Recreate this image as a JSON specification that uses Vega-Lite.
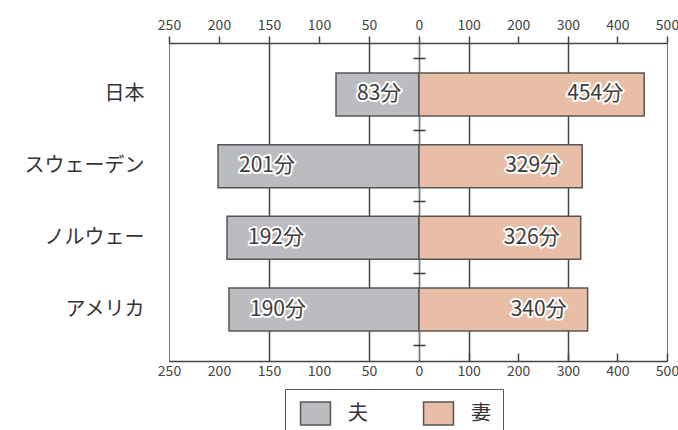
{
  "$schema": "https://vega.github.io/schema/vega-lite/v6.json",
  "padding": {"left": 23, "top": 17, "right": 0, "bottom": 0},
  "bounds": "flush",
  "spacing": 0,
  "background": "white",
  "config": {
    "font": "Noto Sans CJK JP",
    "view": {"stroke": "#777", "strokeWidth": 1},
    "axis": {"domainColor": "#444", "domainWidth": 1.5, "tickColor": "#444", "tickWidth": 1.5, "labelColor": "#444", "labelFont": "Noto Sans CJK JP"}
  },
  "datasets": {
    "d": [
      {"country": "日本", "who": "夫", "minutes": 83, "label": "83分"},
      {"country": "日本", "who": "妻", "minutes": 454, "label": "454分"},
      {"country": "スウェーデン", "who": "夫", "minutes": 201, "label": "201分"},
      {"country": "スウェーデン", "who": "妻", "minutes": 329, "label": "329分"},
      {"country": "ノルウェー", "who": "夫", "minutes": 192, "label": "192分"},
      {"country": "ノルウェー", "who": "妻", "minutes": 326, "label": "326分"},
      {"country": "アメリカ", "who": "夫", "minutes": 190, "label": "190分"},
      {"country": "アメリカ", "who": "妻", "minutes": 340, "label": "340分"}
    ]
  },
  "data": {"name": "d"},
  "hconcat": [
    {
      "width": 250,
      "height": 318,
      "transform": [{"filter": "datum.who === '夫'"}],
      "layer": [
        {
          "mark": {"type": "bar", "stroke": "#555", "strokeWidth": 1.5, "opacity": 1},
          "encoding": {
            "y": {"field": "country", "type": "nominal", "sort": ["日本", "スウェーデン", "ノルウェー", "アメリカ"], "scale": {"paddingInner": 0.4, "paddingOuter": 0.418},
              "axis": {"title": null, "domain": false, "ticks": false, "labelFontSize": 20, "labelColor": "#333", "labelPadding": 25, "labelLimit": 300}},
            "x": {"field": "minutes", "type": "quantitative", "scale": {"domain": [0, 250], "reverse": true, "nice": false, "zero": false},
              "axis": {"orient": "top", "values": [0, 50, 100, 150, 200, 250], "title": null, "labelFontSize": 14, "labelPadding": 4, "tickSize": 7, "labelFlush": false, "labelOverlap": false,
                "grid": true, "gridColor": "#444", "gridWidth": 1.5,
                "gridOpacity": {"condition": {"test": "datum.value === 50 || datum.value === 150 || datum.value === 0", "value": 1}, "value": 0}}},
            "color": {"field": "who", "type": "nominal", "scale": {"domain": ["夫", "妻"], "range": ["#bbbcc0", "#e8bea6"]},
              "legend": {"orient": "none", "legendX": 116, "legendY": 346, "direction": "horizontal", "title": null, "strokeColor": "#555", "padding": 12, "symbolOffset": 6,
                "symbolType": "M-1.3,-1L1.3,-1L1.3,1L-1.3,1Z", "symbolSize": 529, "symbolStrokeColor": "#555", "symbolStrokeWidth": 1.5, "symbolOpacity": 1,
                "labelFontSize": 20, "labelColor": "#333", "labelOffset": 20, "columnPadding": 52}}
          }
        },
        {
          "mark": {"type": "text", "align": "left", "baseline": "middle", "dx": 21, "fontSize": 21, "fill": "white", "stroke": "white", "strokeWidth": 4, "strokeJoin": "round"},
          "encoding": {
            "y": {"field": "country", "type": "nominal", "sort": ["日本", "スウェーデン", "ノルウェー", "アメリカ"], "axis": null},
            "x": {"field": "minutes", "type": "quantitative", "axis": null},
            "text": {"field": "label"}
          }
        },
        {
          "mark": {"type": "text", "align": "left", "baseline": "middle", "dx": 21, "fontSize": 21, "fill": "#3c3c3c"},
          "encoding": {
            "y": {"field": "country", "type": "nominal", "sort": ["日本", "スウェーデン", "ノルウェー", "アメリカ"], "axis": null},
            "x": {"field": "minutes", "type": "quantitative",
              "axis": {"orient": "bottom", "values": [0, 50, 100, 150, 200, 250], "title": null, "labelFontSize": 14, "labelPadding": 3, "ticks": false, "labelFlush": false, "labelOverlap": false, "grid": false}},
            "text": {"field": "label"}
          }
        }
      ],
      "resolve": {"axis": {"x": "independent", "y": "independent"}}
    },
    {
      "width": 248,
      "height": 318,
      "transform": [{"filter": "datum.who === '妻'"}],
      "layer": [
        {
          "mark": {"type": "bar", "stroke": "#555", "strokeWidth": 1.5, "opacity": 1},
          "encoding": {
            "y": {"field": "country", "type": "nominal", "sort": ["日本", "スウェーデン", "ノルウェー", "アメリカ"], "scale": {"paddingInner": 0.4, "paddingOuter": 0.418},
              "axis": {"orient": "left", "title": null, "domain": false, "labels": false, "offset": -6, "tickSize": 12, "tickColor": "#333", "tickWidth": 1.5, "bandPosition": -0.3337}},
            "x": {"field": "minutes", "type": "quantitative", "scale": {"domain": [0, 500], "nice": false, "zero": true},
              "axis": {"orient": "top", "values": [100, 200, 300, 400, 500], "title": null, "labelFontSize": 14, "labelPadding": 4, "tickSize": 7, "labelFlush": false, "labelOverlap": false,
                "grid": true, "gridColor": "#444", "gridWidth": 1.5,
                "gridOpacity": {"condition": {"test": "datum.value === 100 || datum.value === 300", "value": 1}, "value": 0}}},
            "color": {"field": "who", "type": "nominal", "scale": {"domain": ["夫", "妻"], "range": ["#bbbcc0", "#e8bea6"]},
              "legend": {"orient": "none", "legendX": 116, "legendY": 346, "direction": "horizontal", "title": null, "strokeColor": "#555", "padding": 12, "symbolOffset": 6,
                "symbolType": "M-1.3,-1L1.3,-1L1.3,1L-1.3,1Z", "symbolSize": 529, "symbolStrokeColor": "#555", "symbolStrokeWidth": 1.5, "symbolOpacity": 1,
                "labelFontSize": 20, "labelColor": "#333", "labelOffset": 20, "columnPadding": 52}}
          }
        },
        {
          "mark": {"type": "text", "align": "right", "baseline": "middle", "dx": -21, "fontSize": 21, "fill": "white", "stroke": "white", "strokeWidth": 4, "strokeJoin": "round"},
          "encoding": {
            "y": {"field": "country", "type": "nominal", "sort": ["日本", "スウェーデン", "ノルウェー", "アメリカ"], "axis": null},
            "x": {"field": "minutes", "type": "quantitative", "axis": null},
            "text": {"field": "label"}
          }
        },
        {
          "mark": {"type": "text", "align": "right", "baseline": "middle", "dx": -21, "fontSize": 21, "fill": "#3c3c3c"},
          "encoding": {
            "y": {"field": "country", "type": "nominal", "sort": ["日本", "スウェーデン", "ノルウェー", "アメリカ"],
              "axis": {"orient": "left", "title": null, "domain": false, "labels": false, "offset": -6, "tickSize": 12, "tickColor": "#333", "tickWidth": 1.5, "bandPosition": 1.3337, "values": ["アメリカ"]}},
            "x": {"field": "minutes", "type": "quantitative",
              "axis": {"orient": "bottom", "values": [100, 200, 300, 400, 500], "title": null, "labelFontSize": 14, "labelPadding": 11, "tickSize": -8, "labelFlush": false, "labelOverlap": false, "grid": false}},
            "text": {"field": "label"}
          }
        }
      ],
      "resolve": {"axis": {"x": "independent", "y": "independent"}}
    }
  ],
  "resolve": {"scale": {"x": "independent", "y": "independent", "color": "shared"}, "legend": {"color": "shared"}}
}
